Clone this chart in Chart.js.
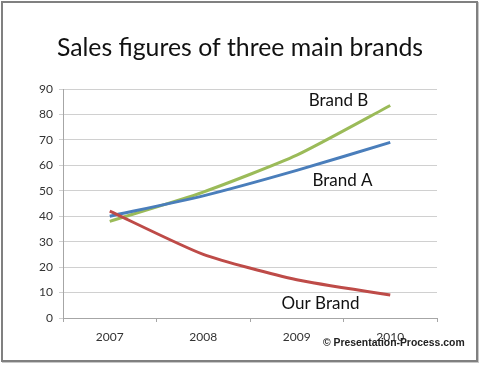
<!DOCTYPE html>
<html><head><meta charset="utf-8">
<script src="https://cdn.jsdelivr.net/npm/chart.js@4/dist/chart.umd.min.js"></script>
<style>
html,body{margin:0;padding:0;background:#fff;}
#wrap{position:relative;width:480px;height:365px;overflow:hidden;}
#frame{position:absolute;left:1px;top:1px;width:473px;height:357px;border:2px solid #808080;box-shadow:1px 1px 0 #c8c8c8;}
canvas{position:absolute;left:0;top:0;}
#copy{position:absolute;left:323px;top:337px;font:bold 10.4px "Liberation Sans",Arial,sans-serif;color:#222;white-space:nowrap;}
</style></head>
<body><div id="wrap"><div id="frame"></div><canvas id="c" width="480" height="365"></canvas>
<div id="copy">© Presentation-Process.com</div></div>
<script>
const title = "Sales figures of three main brands";
const categories = ["2007", "2008", "2009", "2010"];
const brandA = [40, 48, 58, 69];
const brandB = [38, 49.5, 64, 83.5];
const ourBrand = [42, 25, 15, 9];
const seriesNames = ["Brand A", "Brand B", "Our Brand"];
const yTicks = [0, 10, 20, 30, 40, 50, 60, 70, 80, 90];

const labelFont = '17px Lato, "Open Sans", sans-serif';
const labelPlugin = {
  id: 'labels',
  afterDraw(chart) {
    const ctx = chart.ctx;
    const x = chart.scales.x, y = chart.scales.y;
    const mid = (x.getPixelForValue(2) + x.getPixelForValue(3)) / 2;
    ctx.save();
    ctx.fillStyle = '#111';
    ctx.font = '24.8px Lato, "Open Sans", sans-serif';
    ctx.textAlign = 'center';
    ctx.textBaseline = 'middle';
    ctx.fillText(title, 240, 48);
    ctx.font = labelFont;
    ctx.fillText(seriesNames[1], mid - 5, y.getPixelForValue(85.4));
    ctx.fillText(seriesNames[0], mid - 1, y.getPixelForValue(54));
    ctx.fillText(seriesNames[2], mid - 23, y.getPixelForValue(5.8));
    ctx.restore();
  }
};

new Chart(document.getElementById('c'), {
  type: 'line',
  data: {
    labels: categories,
    datasets: [
      {label: seriesNames[2], data: ourBrand, borderColor: '#BE4B48', borderWidth: 3, pointRadius: 0, tension: 0.2, fill: false},
      {label: seriesNames[0], data: brandA, borderColor: '#4A7EBB', borderWidth: 3, pointRadius: 0, tension: 0.2, fill: false},
      {label: seriesNames[1], data: brandB, borderColor: '#9BBB59', borderWidth: 3, pointRadius: 0, tension: 0.2, fill: false}
    ]
  },
  options: {
    responsive: false,
    animation: false,
    devicePixelRatio: 1,
    layout: {padding: {top: 89, right: 43, left: 0, bottom: 0}},
    plugins: {legend: {display: false}, tooltip: {enabled: false}, title: {display: false}},
    scales: {
      x: {
        offset: true,
        grid: {display: true, drawOnChartArea: false, offset: true, color: '#a6a6a6', tickLength: 4},
        border: {color: '#a6a6a6'},
        ticks: {color: '#333', font: {family: 'Lato, "Open Sans", sans-serif', size: 12}, padding: 8},
        afterFit(s) { s.height = 47; }
      },
      y: {
        min: 0, max: 90,
        afterBuildTicks(s) { s.ticks = yTicks.map(v => ({value: v})); },
        grid: {color: '#d0d0d0', tickLength: 4},
        border: {color: '#a6a6a6'},
        ticks: {color: '#333', font: {family: 'Lato, "Open Sans", sans-serif', size: 12}, padding: 6},
        afterFit(s) { s.width = 63; }
      }
    }
  },
  plugins: [labelPlugin]
});
</script></body></html>
